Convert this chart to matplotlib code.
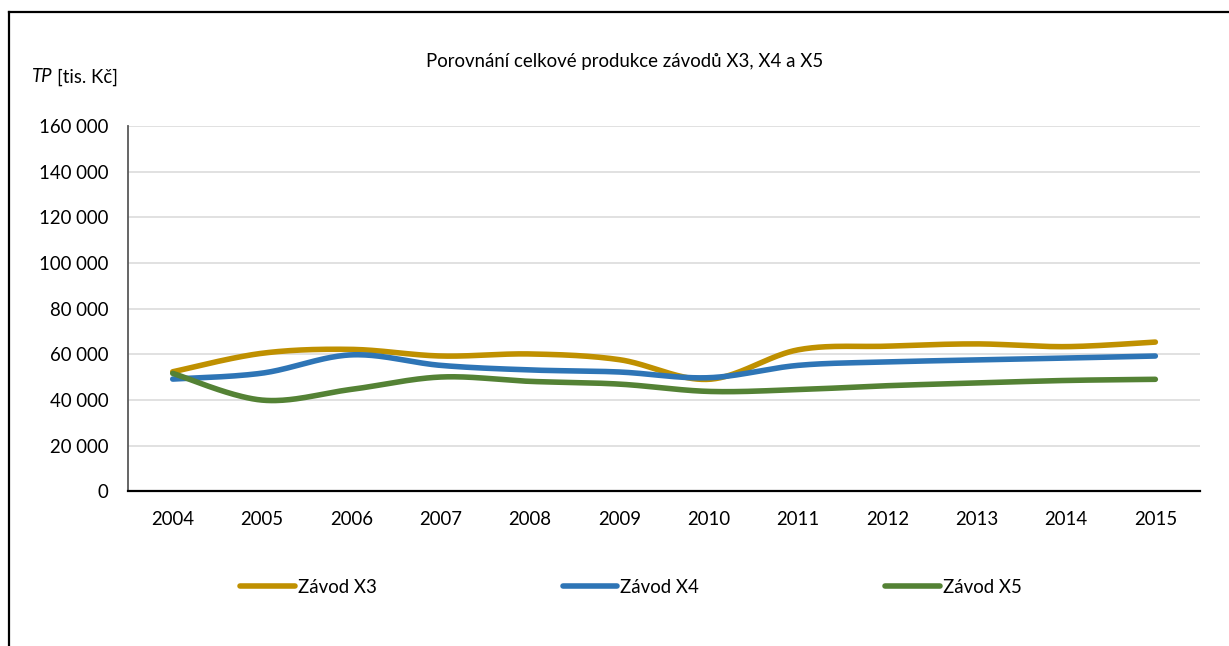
import numpy as np
import matplotlib
matplotlib.use("Agg")
import matplotlib.pyplot as plt
from matplotlib.lines import Line2D
from matplotlib.ticker import FuncFormatter, MultipleLocator

plt.rcParams['font.family'] = ['Lato', 'DejaVu Sans']

years = ["2004", "2005", "2006", "2007", "2008", "2009",
         "2010", "2011", "2012", "2013", "2014", "2015"]
zavod_x3 = [52400, 60500, 62200, 59300, 60200, 57700,
            49100, 62000, 63600, 64600, 63400, 65400]
zavod_x4 = [49200, 51800, 59800, 55200, 53200, 52300,
            49800, 55200, 56700, 57600, 58400, 59300]
zavod_x5 = [51700, 40000, 44700, 50100, 48200, 47000,
            43800, 44600, 46300, 47500, 48600, 49100]
series_names = ["Závod X3", "Závod X4", "Závod X5"]
series_colors = ["#BF9000", "#2E75B6", "#548235"]

FS = 13.4
LW = 4.0


def smooth(xs, ys, steps=40):
    """Catmull-Rom style cubic Bezier through every point."""
    xs = np.asarray(xs, float)
    ys = np.asarray(ys, float)
    px = np.concatenate([[xs[0]], xs, [xs[-1]]])
    py = np.concatenate([[ys[0]], ys, [ys[-1]]])
    out_x, out_y = [], []
    t = np.linspace(0, 1, steps)
    for i in range(1, len(px) - 2):
        p0 = np.array([px[i], py[i]])
        p3 = np.array([px[i + 1], py[i + 1]])
        c1 = p0 + (np.array([px[i + 1], py[i + 1]]) - np.array([px[i - 1], py[i - 1]])) / 6
        c2 = p3 - (np.array([px[i + 2], py[i + 2]]) - np.array([px[i], py[i]])) / 6
        b = (((1 - t) ** 3)[:, None] * p0 + (3 * (1 - t) ** 2 * t)[:, None] * c1
             + (3 * (1 - t) * t ** 2)[:, None] * c2 + (t ** 3)[:, None] * p3)
        out_x.extend(b[:, 0])
        out_y.extend(b[:, 1])
    return np.array(out_x), np.array(out_y)


fig = plt.figure(figsize=(12.29, 6.46), dpi=100)
ax = fig.add_axes([0.1042, 0.2392, 0.8722, 0.5658])

x = np.arange(len(years))
for vals, name, col in zip([zavod_x3, zavod_x4, zavod_x5], series_names, series_colors):
    sx, sy = smooth(x, vals)
    ax.plot(sx, sy, color=col, lw=LW, solid_capstyle='round', label=name, zorder=3)

ax.set_xlim(-0.5, len(years) - 0.5)
ax.set_ylim(0, 160000)
ax.yaxis.set_major_locator(MultipleLocator(20000))
ax.yaxis.set_major_formatter(FuncFormatter(lambda v, p: f"{int(v):,}".replace(",", " ")))
ax.set_xticks(x)
ax.set_xticklabels(years)
ax.tick_params(axis='both', length=0, labelsize=FS, colors='black')
ax.tick_params(axis='y', pad=14)
ax.tick_params(axis='x', pad=14)
ax.grid(axis='y', color='#D9D9D9', lw=1.1, zorder=0)
ax.set_axisbelow(True)
for s in ['top', 'right']:
    ax.spines[s].set_visible(False)
ax.spines['left'].set_color('#595959')
ax.spines['left'].set_linewidth(1.3)
ax.spines['bottom'].set_color('black')
ax.spines['bottom'].set_linewidth(1.6)

fig.text(0.5086, 1 - 62 / 646, "Porovnání celkové produkce závodů X3, X4 a X5",
         ha='center', va='center', fontsize=FS)

t_tp = fig.text(32 / 1229, 1 - 77 / 646, "TP", style='italic', fontsize=FS,
                ha='left', va='center')
fig.canvas.draw()
ax.annotate("[tis. Kč]", xy=(1, 0), xycoords=t_tp, xytext=(3, 0),
            textcoords='offset points', va='bottom', ha='left',
            fontsize=FS, annotation_clip=False)

handles = [Line2D([], [], color=c, lw=LW, solid_capstyle='round') for c in series_colors]
fig.legend(handles, series_names, loc='center', bbox_to_anchor=(0.5134, 0.0913),
           ncol=3, frameon=False, fontsize=FS, handlelength=2.95,
           handletextpad=0.16, columnspacing=10.0)

# outer frame: left and top edges
fig.add_artist(Line2D([9 / 1229, 9 / 1229], [0, 1 - 12 / 646], color='black', lw=1.6,
                      transform=fig.transFigure))
fig.add_artist(Line2D([9 / 1229, 1], [1 - 12 / 646, 1 - 12 / 646], color='black', lw=1.6,
                      transform=fig.transFigure))

fig.savefig("out.png", dpi=100)
